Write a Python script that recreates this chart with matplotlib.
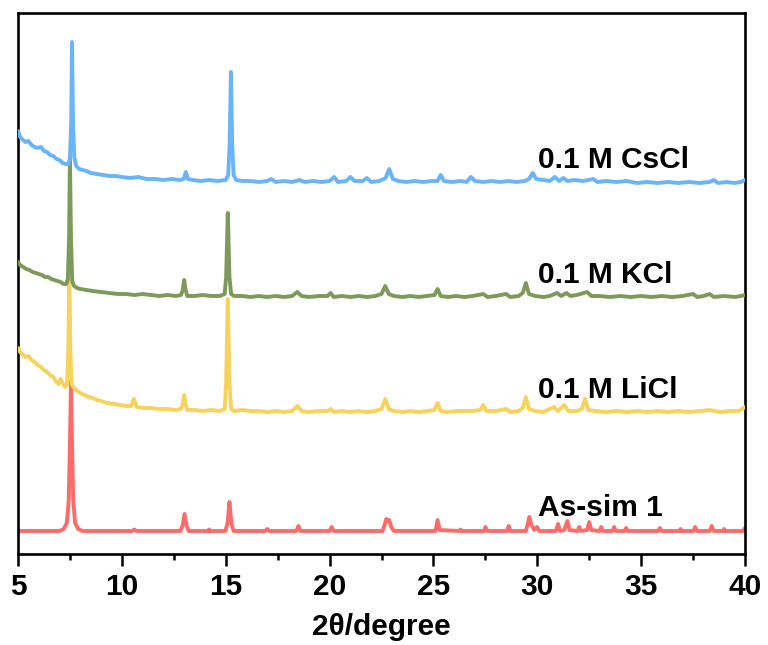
import numpy as np
import matplotlib
matplotlib.use("Agg")
import matplotlib.pyplot as plt
from matplotlib.ticker import MultipleLocator

# ---- data (relative intensities) ----
cscl_pts = [(5.0, 52), (5.1, 46), (5.2, 44), (5.35, 41), (5.5, 42), (5.65, 38), (5.8, 36), (5.95, 35),
            (6.1, 36), (6.25, 32), (6.4, 31), (6.55, 28), (6.7, 27), (6.85, 24), (7.0, 23), (7.15, 20),
            (7.3, 19), (7.42, 19), (7.5, 24), (7.56, 60), (7.6, 141), (7.65, 60), (7.71, 26), (7.8, 17),
            (7.95, 14), (8.1, 13), (8.3, 12), (8.5, 10), (8.8, 9), (9.1, 8), (9.4, 7), (9.7, 7), (10.0, 6),
            (10.4, 5), (10.8, 6), (11.2, 4), (11.6, 4), (12.0, 3), (12.4, 4), (12.8, 3), (12.98, 4),
            (13.08, 11), (13.18, 4), (13.4, 3), (13.8, 2), (14.2, 3), (14.6, 2), (15.0, 3), (15.12, 8),
            (15.19, 40), (15.25, 111), (15.31, 40), (15.38, 8), (15.5, 3), (15.8, 2), (16.2, 2), (16.6, 1),
            (17.0, 2), (17.2, 4), (17.4, 1), (17.8, 2), (18.2, 1), (18.55, 3), (18.8, 1), (19.2, 2),
            (19.6, 1), (20.0, 2), (20.22, 6), (20.4, 1), (20.8, 2), (21.0, 6), (21.2, 2), (21.6, 2),
            (21.8, 5), (22.0, 1), (22.4, 2), (22.7, 5), (22.87, 14), (23.05, 4), (23.3, 2), (23.7, 1),
            (24.1, 2), (24.5, 1), (24.9, 2), (25.2, 2), (25.35, 8), (25.5, 2), (25.9, 1), (26.3, 2),
            (26.6, 1), (26.8, 6), (27.0, 2), (27.4, 1), (27.8, 2), (28.2, 1), (28.6, 2), (29.0, 1),
            (29.4, 2), (29.6, 4), (29.78, 10), (29.95, 4), (30.3, 3), (30.6, 2), (30.85, 6), (31.05, 2),
            (31.25, 5), (31.45, 2), (31.8, 3), (32.2, 2), (32.7, 4), (32.9, 1), (33.3, 2), (33.8, 1),
            (34.3, 2), (34.8, 0), (35.3, 1), (35.8, 0), (36.3, 1), (36.8, 0), (37.3, 1), (37.8, 0),
            (38.3, 1), (38.5, 3), (38.7, 0), (39.1, 1), (39.5, 0), (39.8, 1), (40.0, 3)]

kcl_pts = [(5.0, 35), (5.1, 32), (5.25, 30), (5.4, 28), (5.55, 27), (5.7, 25), (5.85, 24), (6.0, 23),
           (6.15, 22), (6.3, 20), (6.45, 20), (6.6, 18), (6.75, 17), (6.9, 16), (7.05, 15), (7.2, 13),
           (7.32, 13), (7.4, 18), (7.46, 60), (7.5, 140), (7.55, 60), (7.61, 16), (7.7, 11), (7.85, 9),
           (8.0, 8), (8.3, 7), (8.6, 6), (9.0, 5), (9.4, 4), (9.8, 3), (10.2, 3), (10.6, 2), (11.0, 3),
           (11.4, 2), (11.8, 1), (12.2, 2), (12.6, 1), (12.85, 2), (12.93, 7), (13.0, 17), (13.07, 7),
           (13.15, 1), (13.5, 1), (13.9, 2), (14.3, 1), (14.7, 1), (14.95, 3), (15.02, 20), (15.1, 84),
           (15.18, 20), (15.26, 3), (15.4, 1), (15.8, 1), (16.2, 0), (16.6, 1), (17.0, 0), (17.4, 1),
           (17.8, 0), (18.2, 1), (18.45, 5), (18.65, 1), (19.0, 0), (19.5, 1), (19.9, 1), (20.05, 4),
           (20.2, 0), (20.6, 1), (21.0, 0), (21.4, 1), (21.8, 0), (22.2, 1), (22.5, 3), (22.68, 11),
           (22.85, 3), (23.1, 1), (23.5, 0), (23.9, 1), (24.3, 0), (24.7, 1), (25.05, 2), (25.2, 8),
           (25.35, 1), (25.7, 0), (26.1, 1), (26.5, 0), (26.9, 1), (27.4, 3), (27.6, 0), (28.0, 1),
           (28.5, 3), (28.7, 0), (29.1, 1), (29.3, 4), (29.45, 14), (29.6, 3), (29.9, 1), (30.3, 0),
           (30.6, 1), (30.95, 4), (31.15, 1), (31.4, 4), (31.6, 1), (31.9, 2), (32.4, 5), (32.6, 1),
           (33.0, 1), (33.5, 0), (34.0, 1), (34.5, 0), (35.0, 1), (35.5, 0), (36.0, 1), (36.5, 0),
           (37.0, 1), (37.5, 3), (37.7, 0), (38.0, 1), (38.3, 3), (38.5, 0), (39.0, 1), (39.5, 0),
           (39.8, 1), (40.0, 2)]

licl_pts = [(5.0, 64), (5.1, 60), (5.2, 58), (5.35, 55), (5.5, 56), (5.65, 52), (5.8, 50), (5.95, 47),
            (6.1, 45), (6.25, 42), (6.4, 40), (6.55, 37), (6.7, 35), (6.85, 30), (6.95, 28), (7.05, 33),
            (7.15, 29), (7.28, 25), (7.36, 27), (7.42, 60), (7.47, 143), (7.52, 60), (7.58, 28), (7.7, 24),
            (7.85, 21), (8.0, 19), (8.2, 17), (8.4, 15), (8.6, 14), (8.8, 12), (9.0, 11), (9.3, 9),
            (9.6, 8), (9.9, 7), (10.2, 6), (10.45, 6), (10.58, 13), (10.72, 5), (11.0, 4), (11.4, 4),
            (11.8, 3), (12.2, 3), (12.6, 2), (12.85, 3), (12.93, 8), (13.0, 17), (13.07, 8), (13.15, 2),
            (13.5, 2), (13.9, 1), (14.3, 2), (14.7, 1), (14.95, 3), (15.02, 30), (15.1, 113), (15.18, 30),
            (15.26, 3), (15.4, 1), (15.8, 2), (16.2, 1), (16.6, 1), (17.0, 0), (17.4, 1), (17.8, 0),
            (18.2, 1), (18.45, 6), (18.65, 1), (19.0, 0), (19.5, 1), (19.9, 1), (20.05, 3), (20.2, 0),
            (20.6, 1), (21.0, 0), (21.4, 1), (21.8, 0), (22.2, 1), (22.5, 3), (22.68, 13), (22.85, 3),
            (23.1, 1), (23.5, 0), (23.9, 1), (24.3, 0), (24.7, 1), (25.05, 2), (25.2, 9), (25.35, 1),
            (25.7, 0), (26.1, 1), (26.5, 1), (26.9, 1), (27.25, 2), (27.4, 7), (27.55, 1), (28.0, 1),
            (28.5, 3), (28.7, 0), (29.1, 1), (29.3, 4), (29.45, 15), (29.6, 3), (29.9, 1), (30.3, 0),
            (30.8, 5), (31.0, 1), (31.3, 7), (31.5, 1), (31.9, 1), (32.15, 3), (32.3, 13), (32.45, 2),
            (32.8, 1), (33.3, 0), (33.8, 1), (34.3, 0), (34.8, 1), (35.3, 0), (35.8, 1), (36.3, 0),
            (36.8, 1), (37.3, 0), (37.8, 1), (38.3, 2), (38.8, 0), (39.3, 1), (39.7, 1), (40.0, 5)]

sim_pts = [(5.0, 0), (6.0, 0), (7.0, 0), (7.2, 2), (7.35, 8), (7.44, 30), (7.5, 85), (7.55, 150),
           (7.6, 85), (7.66, 30), (7.75, 8), (7.9, 2), (8.1, 0), (10.5, 0), (10.6, 1.5), (10.7, 0),
           (12.82, 0), (12.92, 5), (13.02, 17), (13.12, 5), (13.22, 0), (14.15, 0), (14.2, 1.5),
           (14.25, 0), (14.98, 0), (15.09, 8), (15.18, 29), (15.27, 8), (15.38, 0), (16.9, 0), (17.0, 2),
           (17.1, 0), (18.4, 0), (18.5, 5), (18.6, 0), (20.0, 0), (20.1, 4), (20.2, 0), (22.55, 0),
           (22.65, 6), (22.73, 12), (22.8, 10), (22.87, 11), (22.97, 4), (23.1, 0), (25.1, 0),
           (25.2, 11), (25.3, 1), (26.25, 0), (26.3, 1.5), (26.35, 0), (27.45, 0), (27.5, 4), (27.6, 0),
           (28.55, 0), (28.62, 5), (28.7, 0), (29.45, 0), (29.55, 8), (29.62, 14), (29.7, 7),
           (29.85, 1), (29.98, 4), (30.1, 0), (30.9, 0), (31.0, 7), (31.1, 0), (31.3, 1), (31.45, 10),
           (31.55, 1), (31.95, 0), (32.02, 4), (32.1, 0), (32.4, 1), (32.5, 9), (32.6, 1), (33.0, 0),
           (33.08, 4), (33.15, 0), (33.62, 0), (33.7, 4), (33.78, 0), (34.2, 0), (34.28, 3), (34.35, 0),
           (35.82, 0), (35.9, 3), (35.98, 0), (36.85, 0), (36.9, 2), (36.95, 0), (37.52, 0), (37.6, 4),
           (37.68, 0), (38.3, 0), (38.4, 5), (38.5, 0), (38.95, 0), (39.0, 2), (39.05, 0), (39.9, 0),
           (40.0, 3)]

labels = ["As-sim 1", "0.1 M LiCl", "0.1 M KCl", "0.1 M CsCl"]
offsets = [23, 142, 257, 371]
colors = ["#FF6B6B", "#F7D35E", "#7E9A5B", "#6AB4FA"]
label_y = [46, 164, 279, 394]
xticks = [5, 10, 15, 20, 25, 30, 35, 40]

traces = [sim_pts, licl_pts, kcl_pts, cscl_pts]

plt.rcParams['font.family'] = ['Liberation Sans', 'DejaVu Sans']
plt.rcParams['font.weight'] = 'bold'

fig = plt.figure(figsize=(7.68, 6.45), dpi=100)
ax = fig.add_axes([18 / 768, 1 - 554 / 645, (745 - 18) / 768, (554 - 13) / 645])

for i, (pts, off, col) in enumerate(zip(traces, offsets, colors)):
    arr = np.array(pts, dtype=float)
    ax.plot(arr[:, 0], arr[:, 1] + off, color=col, lw=2.8, zorder=2 + i,
            solid_joinstyle='round', solid_capstyle='round')
    ax.text(30.05, label_y[i], labels[i], fontsize=21.5, fontweight='bold', ha='left', va='center',
            color='black', zorder=10)

ax.set_xlim(5, 40)
ax.set_ylim(0, 541)
ax.set_xticks(xticks)
ax.set_xticklabels([str(t) for t in xticks], fontsize=21.5, fontweight='bold')
ax.xaxis.set_minor_locator(MultipleLocator(2.5))
ax.set_yticks([])
ax.tick_params(axis='x', which='major', direction='out', length=8.5, width=1.8, pad=5)
ax.tick_params(axis='x', which='minor', direction='out', length=4.5, width=1.8)
ax.tick_params(axis='x', top=False)
for s in ax.spines.values():
    s.set_linewidth(1.9)
ax.set_xlabel("2θ/degree", fontsize=21.5, fontweight='bold', labelpad=9)

fig.savefig("out.png", dpi=100)
